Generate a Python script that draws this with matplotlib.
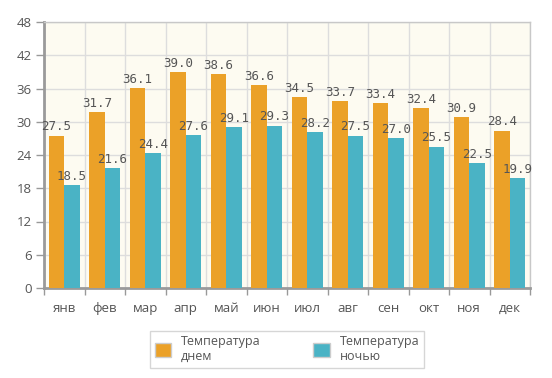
import matplotlib
matplotlib.use("Agg")
import matplotlib.pyplot as plt
import numpy as np
from matplotlib.patches import Patch

months = ["янв", "фев", "мар", "апр", "май", "июн", "июл", "авг", "сен", "окт", "ноя", "дек"]
day_temp = [27.5, 31.7, 36.1, 39.0, 38.6, 36.6, 34.5, 33.7, 33.4, 32.4, 30.9, 28.4]
night_temp = [18.5, 21.6, 24.4, 27.6, 29.1, 29.3, 28.2, 27.5, 27.0, 25.5, 22.5, 19.9]
y_ticks = [0, 6, 12, 18, 24, 30, 36, 42, 48]
series_names = ["Температура\nднем", "Температура\nночью"]

c_day = "#EBA128"
c_night = "#4AB3C5"
txt = "#555555"

fig = plt.figure(figsize=(5.52, 3.78), dpi=100)
ax = fig.add_axes([44/552, 1-288/378, (530-44)/552, (288-22)/378])
ax.set_facecolor("#FDFBF1")

x = np.arange(len(months))
w = 0.38
ax.bar(x - w/2, day_temp, w, color=c_day, zorder=3)
ax.bar(x + w/2, night_temp, w, color=c_night, zorder=3)

for i in range(len(months)):
    ax.text(x[i] - w/2, day_temp[i] + 0.4, f"{day_temp[i]:.1f}", ha="center", va="bottom",
            fontsize=9, color=txt, family="DejaVu Sans Mono", zorder=4)
    ax.text(x[i] + w/2, night_temp[i] + 0.4, f"{night_temp[i]:.1f}", ha="center", va="bottom",
            fontsize=9, color=txt, family="DejaVu Sans Mono", zorder=4)

ax.set_xlim(-0.5, len(months) - 0.5)
ax.set_ylim(0, 48)
ax.set_yticks(y_ticks)
ax.set_yticklabels([str(t) for t in y_ticks], fontsize=9.5, color=txt, family="Open Sans")
ax.set_xticks(x)
ax.set_xticklabels(months, fontsize=9.5, color=txt, family="Open Sans")
ax.tick_params(axis="x", length=0, pad=10)
ax.tick_params(axis="y", length=6, width=1, color="#999999", pad=3)

ax.set_xticks(np.arange(-0.5, len(months)), minor=True)
ax.tick_params(axis="x", which="minor", length=5, color="#999999", width=1)
ax.grid(True, which="minor", axis="x", color="#DDDDDD", lw=1, zorder=0)
ax.grid(True, which="major", axis="y", color="#DDDDDD", lw=1, zorder=0)

for s in ["left", "bottom"]:
    ax.spines[s].set_color("#9A9A9A")
    ax.spines[s].set_linewidth(2)
for s in ["top", "right"]:
    ax.spines[s].set_color("#C8C8C8")
    ax.spines[s].set_linewidth(1)

handles = [Patch(facecolor=c_day, edgecolor="#CCCCCC"), Patch(facecolor=c_night, edgecolor="#CCCCCC")]
leg = fig.legend(handles, series_names, loc="center", bbox_to_anchor=(287/552, 1-349/378), ncol=2,
                 frameon=True, handlelength=1.3, handleheight=1.3, columnspacing=4.2,
                 prop={"family": "Open Sans", "size": 9}, fancybox=False, borderpad=0.4,
                 borderaxespad=0)
leg.get_frame().set_edgecolor("#CCCCCC")
leg.get_frame().set_linewidth(1)
for t in leg.get_texts():
    t.set_color(txt)
    t.set_linespacing(1.1)

fig.savefig("out.png", dpi=100)
